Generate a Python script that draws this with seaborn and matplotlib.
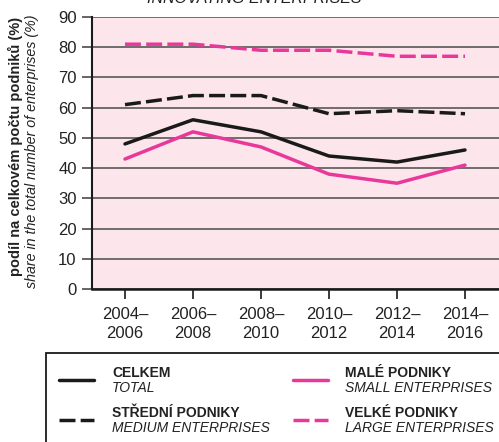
import pandas as pd
import matplotlib.pyplot as plt
import seaborn as sns
from matplotlib.lines import Line2D
from matplotlib.patches import Rectangle

# data
periods = ['2004–\n2006', '2006–\n2008', '2008–\n2010', '2010–\n2012', '2012–\n2014', '2014–\n2016']
total = [48, 56, 52, 44, 42, 46]
small = [43, 52, 47, 38, 35, 41]
medium = [61, 64, 64, 58, 59, 58]
large = [81, 81, 79, 79, 77, 77]

series_names = ['total', 'small', 'medium', 'large']
bold_labels = ['CELKEM', 'MALÉ PODNIKY', 'STŘEDNÍ PODNIKY', 'VELKÉ PODNIKY']
italic_labels = ['TOTAL', 'SMALL ENTERPRISES', 'MEDIUM ENTERPRISES', 'LARGE ENTERPRISES']

BLACK = '#1a1a1a'
PINK = '#e8399a'
BG = '#fce6ec'
GRID = '#4a4a4a'

sns.set_style('white')
plt.rcParams['font.family'] = ['Liberation Sans', 'DejaVu Sans']

rows = []
for name, vals in zip(series_names, [total, small, medium, large]):
    for i, v in enumerate(vals):
        rows.append({'x': i, 'value': v, 'series': name})
df = pd.DataFrame(rows)

W, H = 499, 442
fig = plt.figure(figsize=(W / 100, H / 100), dpi=100)
ax = fig.add_axes([92 / W, 1 - 289 / H, 1 - 92 / W, (289 - 17) / H])
ax.set_facecolor(BG)

palette = {'total': BLACK, 'small': PINK, 'medium': BLACK, 'large': PINK}
dash_map = {'total': '', 'small': '', 'medium': (4.6, 1.5), 'large': (4.6, 1.5)}
sns.lineplot(data=df, x='x', y='value', hue='series', style='series',
             palette=palette, dashes=dash_map, linewidth=2.5, legend=False, ax=ax,
             zorder=3)

ax.set_xlim(-0.485, 5.5)
ax.set_ylim(0, 90)
ax.set_yticks(range(0, 91, 10))
ax.set_xticks(range(len(periods)))
ax.set_xticklabels(periods, fontsize=12, linespacing=1.3)
ax.tick_params(axis='y', labelsize=12, length=7, width=1.2, color=GRID, pad=4, left=True)
ax.tick_params(axis='x', length=7, width=1.2, color=BLACK, pad=6, bottom=True)
ax.yaxis.grid(True, color=GRID, linewidth=1.1, zorder=1)
ax.set_axisbelow(True)
for s in ['top', 'right']:
    ax.spines[s].set_visible(False)
ax.spines['left'].set_color(BLACK)
ax.spines['left'].set_linewidth(1.5)
ax.spines['bottom'].set_color(BLACK)
ax.spines['bottom'].set_linewidth(1.8)
ax.set_xlabel('')
ax.set_ylabel('')
for lbl in ax.get_xticklabels():
    lbl.set_color('#222222')
for lbl in ax.get_yticklabels():
    lbl.set_color('#222222')

# title (cut off at the top of the image)
fig.text(254 / W, 1 - 3 / H, 'INNOVATING ENTERPRISES', ha='center', va='baseline',
         fontsize=11.5, style='italic', color='#222222')

# y axis label (two lines, bold + italic)
fig.text(15 / W, 1 - 146 / H, 'podíl na celkovém počtu podniků (%)', rotation=90,
         ha='center', va='center', fontsize=10.5, fontweight='bold', color='#222222')
fig.text(32 / W, 1 - 151 / H, 'share in the total number of enterprises (%)', rotation=90,
         ha='center', va='center', fontsize=10.3, style='italic', color='#222222')

# legend box
fig.patches.append(Rectangle((46 / W, -0.05), 1.0, 1 - 352.5 / H + 0.05,
                             transform=fig.transFigure, fill=False,
                             edgecolor=BLACK, linewidth=1.3))
handle_x = [(59, 94), (293, 328)]
text_x = [112, 345]
row_y = [380, 420]
for k, name in enumerate(series_names):
    col = k % 2
    row = k // 2
    x0, x1 = handle_x[col]
    y = row_y[row]
    ls = (0, dash_map[name]) if dash_map[name] else '-'
    fig.add_artist(Line2D([x0 / W, x1 / W], [1 - y / H, 1 - y / H],
                          transform=fig.transFigure, color=palette[name],
                          linewidth=2.5, linestyle=ls))
    fig.text(text_x[col] / W, 1 - (y - 3) / H, bold_labels[k], ha='left', va='baseline',
             fontsize=10, fontweight='bold', color='#222222')
    fig.text(text_x[col] / W, 1 - (y + 12) / H, italic_labels[k], ha='left', va='baseline',
             fontsize=10, style='italic', color='#222222')

fig.savefig('out.png', dpi=100, facecolor='white')
